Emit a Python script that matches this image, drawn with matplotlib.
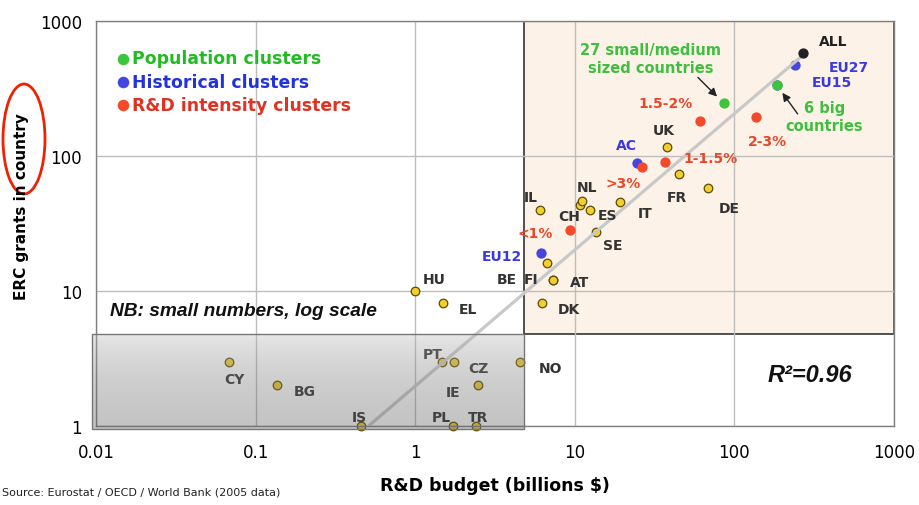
import numpy as np
import matplotlib.pyplot as plt
from matplotlib.patches import Rectangle, Ellipse
from matplotlib.colors import LinearSegmentedColormap

# country points: R&D budget (billions $) vs ERC grants
countries = ['HU', 'EL', 'IL', 'BE', 'FI', 'AT', 'DK', 'CH', 'NL', 'ES', 'IT', 'SE',
             'UK', 'FR', 'DE', 'CY', 'BG', 'IS', 'PT', 'CZ', 'IE', 'PL', 'TR', 'NO']
rd_budget = [1.0, 1.49, 6.05, 6.67, 7.3, 7.3, 6.22, 10.8, 11.1, 12.4, 19.1, 13.6,
             38.0, 44.8, 68.6, 0.068, 0.136, 0.457, 1.47, 1.75, 2.47, 1.72, 2.39, 4.54]
erc_grants = [10, 8.1, 39.6, 16.1, 12.1, 12.1, 8.1, 43.3, 46.7, 39.6, 45.6, 27.2,
              117, 73.9, 57.7, 3, 2, 1, 3, 3, 2, 1, 1, 3]

# cluster points
pop_labels = ['27 small/medium\nsized countries', '6 big\ncountries']
pop_budget = [86, 184]
pop_grants = [245, 336]

hist_labels = ['EU27', 'EU15', 'AC', 'EU12']
hist_budget = [241, 184, 24.5, 6.17]
hist_grants = [474, 336, 88.3, 19.1]

rdi_labels = ['<1%', '1-1.5%', '1.5-2%', '2-3%', '>3%']
rdi_budget = [9.33, 36.6, 60.8, 137, 26.2]
rdi_grants = [28.5, 90.3, 183, 195, 83.4]

all_budget = [269]
all_grants = [582]

# regression line end points
fit_budget = [0.51, 260]
fit_grants = [1.0, 540]

x_ticks = [0.01, 0.1, 1, 10, 100, 1000]
x_ticklabels = ['0.01', '0.1', '1', '10', '100', '1000']
y_ticks = [1, 10, 100, 1000]
y_ticklabels = ['1', '10', '100', '1000']

# label offsets in pixels from each point
country_offsets = {'HU': (19, 12), 'EL': (25, -6), 'IL': (-9, 13), 'BE': (-40, -16),
                   'FI': (-22, 1), 'AT': (27, -2), 'DK': (27, -6), 'CH': (-11, -11),
                   'NL': (5, 14), 'ES': (18, -5), 'IT': (25, -11), 'SE': (17, -13),
                   'UK': (-4, 17), 'FR': (-2, -23), 'DE': (21, -20), 'CY': (6, -17),
                   'BG': (28, -6), 'IS': (-2, 9), 'PT': (-9, 8), 'CZ': (24, -6),
                   'IE': (-25, -7), 'PL': (-11, 9), 'TR': (2, 9), 'NO': (30, -6)}
hist_offsets = [(53, -2), (55, 3), (-10, 18), (-39, -3)]
rdi_offsets = [(-35, -3), (46, 4), (-34, 18), (11, -24), (-18, -16)]
pop_offsets = [(-73, 45), (48, -32)]
pop_arrow_start = [(-26, 26), (21, -29)]

GREEN, BLUE, RED = '#3DC43D', '#4545E0', '#F24A2A'
GREEN_T, BLUE_T, RED_T = '#3FBF3F', '#3B3BDB', '#E8472B'
DARK = '#333333'

fig = plt.figure(figsize=(9.2, 5.06), dpi=100)
ax = fig.add_axes([96 / 920, 1 - 427 / 506, 798 / 920, 405 / 506])
ax.set_xscale('log')
ax.set_yscale('log')

# shaded zones
ax.add_patch(Rectangle((4.8, 4.8), 1000 - 4.8, 1000 - 4.8, facecolor='#FDF2E7',
                       edgecolor='#333333', linewidth=1.2, zorder=0.2))
ax.grid(True, which='major', color='#BDBDBD', linewidth=1)
ax.set_axisbelow(True)

# regression line
ax.plot(fit_budget, fit_grants, color='#C8C8C8', linewidth=2.3, zorder=3,
        solid_capstyle='butt')

ax.scatter(rd_budget, erc_grants, s=38, color='#F2CE2E', edgecolor='#5C4B0A',
           linewidth=0.9, zorder=2, clip_on=False)
ax.scatter(hist_budget, hist_grants, s=55, color=BLUE, linewidth=0, zorder=2,
           label='Historical clusters')
ax.scatter(pop_budget, pop_grants, s=55, color=GREEN, linewidth=0, zorder=4,
           label='Population clusters')
ax.scatter(rdi_budget, rdi_grants, s=55, color=RED, linewidth=0, zorder=4,
           label='R&D intensity clusters')
ax.scatter(all_budget, all_grants, s=55, color='#222222', linewidth=0, zorder=4)

lbl = dict(textcoords='offset pixels', ha='center', va='center',
           fontsize=10, fontweight='bold', zorder=4.5)
for name, x, y in zip(countries, rd_budget, erc_grants):
    ax.annotate(name, (x, y), xytext=country_offsets[name], color=DARK, **lbl)
for name, x, y, off in zip(hist_labels, hist_budget, hist_grants, hist_offsets):
    ax.annotate(name, (x, y), xytext=off, color=BLUE_T, **lbl)
for name, x, y, off in zip(rdi_labels, rdi_budget, rdi_grants, rdi_offsets):
    ax.annotate(name, (x, y), xytext=off, color=RED_T, **lbl)
for name, x, y, off, start in zip(pop_labels, pop_budget, pop_grants,
                                  pop_offsets, pop_arrow_start):
    ax.annotate(name, (x, y), xytext=off, color=GREEN_T, linespacing=1.25,
                textcoords='offset pixels', ha='center', va='center',
                fontsize=10.5, fontweight='bold', zorder=4.5)
    ax.annotate('', (x, y), xytext=start, textcoords='offset pixels',
                arrowprops=dict(arrowstyle='-|>', color='#222222', lw=1,
                                shrinkA=0, shrinkB=7, mutation_scale=12))
ax.annotate('ALL', (all_budget[0], all_grants[0]), xytext=(30, 12), color='#222222', **lbl)

# grey "small numbers" box with vertical gradient
grad = np.linspace(0, 1, 200).reshape(-1, 1)
cmap = LinearSegmentedColormap.from_list('box', ['#555555', '#BBBBBB'])
ax.imshow(grad, extent=[0.0094, 4.8, 0.95, 4.8], origin='lower', cmap=cmap,
          alpha=0.35, aspect='auto', zorder=5, clip_on=False, interpolation='bilinear')
ax.add_patch(Rectangle((0.0094, 0.95), 4.8 - 0.0094, 4.8 - 0.95, fill=False,
                       edgecolor='#777777', linewidth=1, zorder=5.1, clip_on=False))

ax.set_xlim(0.01, 1000)
ax.set_ylim(1, 1000)
ax.set_xticks(x_ticks)
ax.set_xticklabels(x_ticklabels)
ax.set_yticks(y_ticks)
ax.set_yticklabels(y_ticklabels)
ax.minorticks_off()
ax.tick_params(axis='x', length=0, pad=12, labelsize=12)
ax.tick_params(axis='y', length=0, pad=10, labelsize=12)
for sp in ax.spines.values():
    sp.set_color('#808080')
    sp.set_linewidth(1)

# legend order: population, historical, R&D
handles, labels = ax.get_legend_handles_labels()
order = [1, 0, 2]
leg = ax.legend([handles[i] for i in order], [labels[i] for i in order],
                loc='upper left', bbox_to_anchor=(0.016, 0.947), frameon=False,
                prop={'weight': 'bold', 'size': 12.4}, handletextpad=0.15,
                labelspacing=0.3, handlelength=0.8, borderaxespad=0,
                markerscale=1.12, labelcolor=['#22BB22', '#2233DD', '#DD3322'])
leg.set_zorder(6)

ax.text(0.0175, 0.284, 'NB: small numbers, log scale', transform=ax.transAxes,
        fontsize=13.8, fontweight='bold', fontstyle='italic',
        family='Liberation Sans', ha='left', va='center', color='#111111')
ax.text(0.895, 0.126, 'R\u00b2=0.96', transform=ax.transAxes, fontsize=17,
        fontweight='bold', fontstyle='italic', family='Liberation Sans',
        ha='center', va='center', color='#111111')

fig.text(22 / 920, 1 - 207 / 506, 'ERC grants in country', rotation=90,
         ha='center', va='center', fontsize=11, fontweight='bold')
fig.add_artist(Ellipse((24 / 920, 1 - 140 / 506), 42 / 920, 110 / 506,
                       transform=fig.transFigure, fill=False,
                       edgecolor='#EE2200', linewidth=2))
fig.text(495 / 920, 1 - 486 / 506, 'R&D budget (billions $)', ha='center',
         va='center', fontsize=12.5, fontweight='bold')
fig.text(0.002, 1 - 493 / 506, 'Source: Eurostat / OECD / World Bank (2005 data)',
         ha='left', va='center', fontsize=8, color='#222222')

fig.savefig('out.png', dpi=100)
